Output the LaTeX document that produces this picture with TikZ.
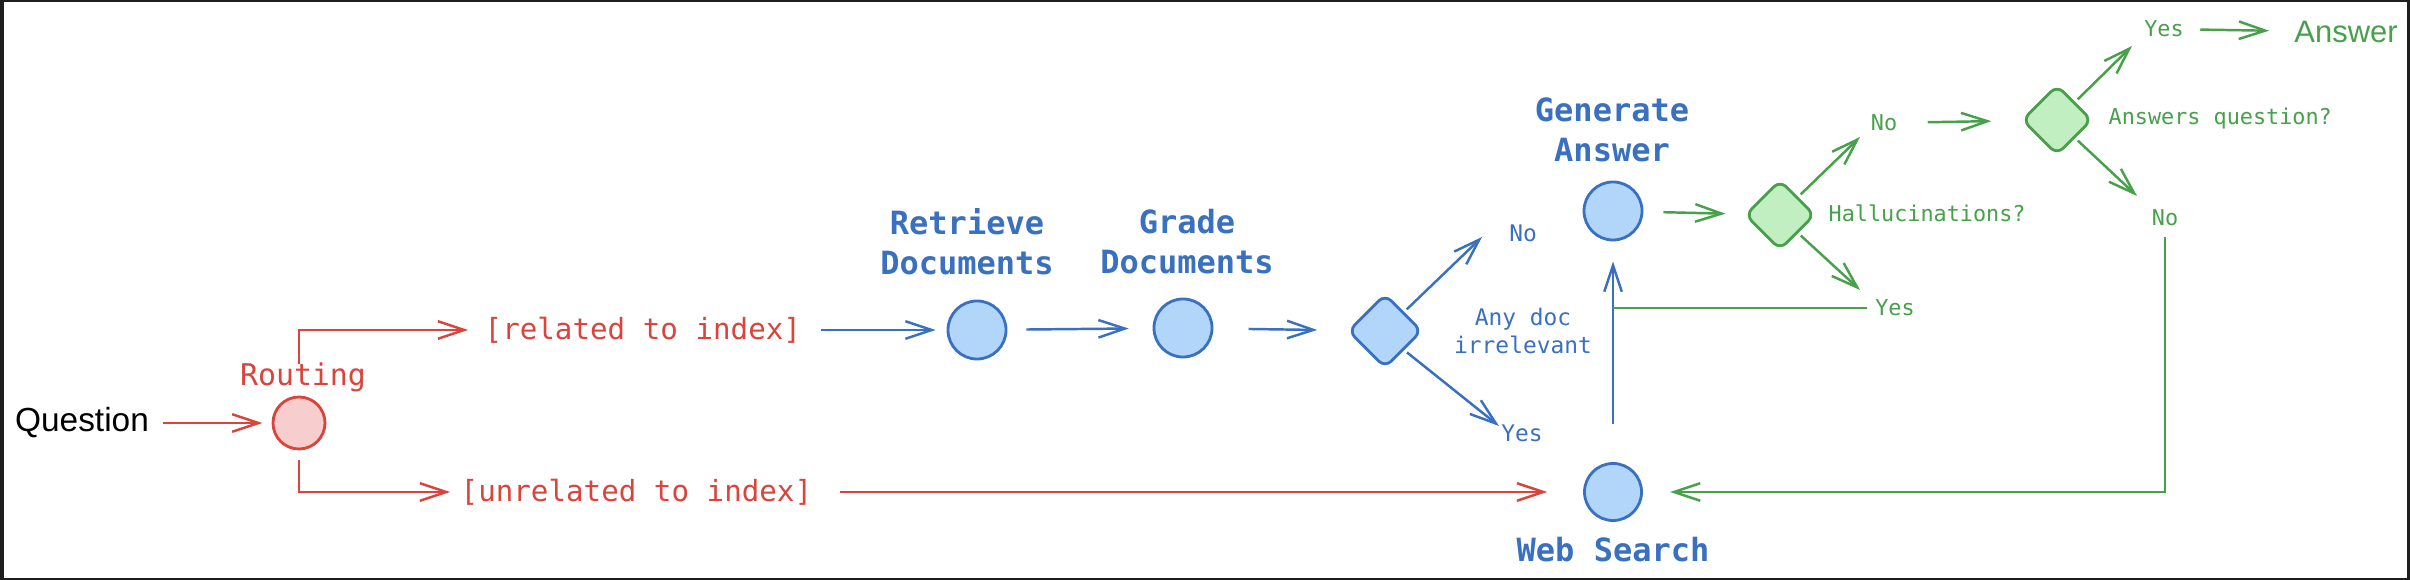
\documentclass[tikz,border=0pt]{standalone}
\usepackage{fontspec}
\setmainfont{Liberation Sans}
\setmonofont{DejaVu Sans Mono}
\usepackage{xcolor}
\usepackage{tikz}
\usetikzlibrary{arrows.meta,shapes}
\definecolor{fgred}{HTML}{D9443D}
\definecolor{bgred}{HTML}{F8CDCD}
\definecolor{fgblue}{HTML}{3A70C0}
\definecolor{bgblue}{HTML}{B1D6FA}
\definecolor{fggreen}{HTML}{48A04B}
\definecolor{bggreen}{HTML}{C1EFC2}
\definecolor{framegray}{HTML}{1E1E1E}

\begin{document}
\begin{tikzpicture}[x=0.01cm,y=-0.01cm,
  flow/.style={line width=0.7pt,-{Straight Barb[length=7.5pt,width=5pt]}},
  redflow/.style={flow,fgred},
  blueflow/.style={flow,fgblue},
  greenflow/.style={flow,fggreen},
  dot/.style={circle,line width=0.8pt,minimum size=0.58cm,inner sep=0pt},
  bluedot/.style={dot,draw=fgblue,fill=bgblue},
  decide/.style={diamond,line width=0.8pt,minimum size=0.74cm,inner sep=0pt,rounded corners=2.5pt},
  title/.style={font=\ttfamily\bfseries\fontsize{9.1}{11.4}\selectfont,align=center,fgblue,inner sep=0pt},
  tag/.style={font=\ttfamily\fontsize{8.3}{10}\selectfont,fgred,inner sep=0pt},
  note/.style={font=\ttfamily\fontsize{6.2}{8}\selectfont,inner sep=0pt},
  hand/.style={font=\fontsize{9.5}{11}\selectfont,inner sep=0pt}]
\useasboundingbox (0,0) rectangle (2410,580);
\fill[framegray] (0,0) rectangle (2410,580);
\fill[white] (4,2) rectangle (2407,578);

\node[hand] (question) at (82,423) {Question};
\node[dot,draw=fgred,fill=bgred,minimum size=0.52cm] (routing) at (299,423) {};
\node[tag,font=\ttfamily\fontsize{8.5}{10}\selectfont] (routingtitle) at (303,377) {Routing};
\node[tag,anchor=west] (related) at (484,330) {[related to index]};
\node[tag,anchor=west] (unrelated) at (460,492) {[unrelated to index]};
\node[bluedot] (retrieve) at (977,330) {};
\node[title] (retrievetitle) at (967,242) {Retrieve\\Documents};
\node[bluedot] (grade) at (1183,328) {};
\node[title] (gradetitle) at (1187,242) {Grade\\Documents};
\node[decide,draw=fgblue,fill=bgblue] (anydoc) at (1385,331) {};
\node[note,fgblue,align=center,font=\ttfamily\fontsize{6.5}{8}\selectfont] (anydoctext) at (1523,331) {Any doc\\irrelevant};
\node[note,fgblue,font=\ttfamily\fontsize{6.5}{8}\selectfont] (docno) at (1523,233) {No};
\node[note,fgblue,font=\ttfamily\fontsize{6.5}{8}\selectfont] (docyes) at (1522,433) {Yes};
\node[bluedot] (generate) at (1613,211) {};
\node[title] (generatetitle) at (1612,130) {Generate\\Answer};
\node[bluedot,minimum size=0.57cm] (websearch) at (1613,492) {};
\node[title] (websearchtitle) at (1613,550) {Web Search};
\node[decide,draw=fggreen,fill=bggreen,minimum size=0.7cm] (halluc) at (1780,215) {};
\node[note,fggreen,anchor=west] (halluctext) at (1828,213) {Hallucinations?};
\node[note,fggreen] (hallno) at (1884,123) {No};
\node[note,fggreen] (hallyes) at (1895,308) {Yes};
\node[decide,draw=fggreen,fill=bggreen,minimum size=0.7cm] (answers) at (2057,120) {};
\node[note,fggreen,anchor=west] (answerstext) at (2108,119) {Answers question?};
\node[note,fggreen] (ansyes) at (2164,29) {Yes};
\node[note,fggreen] (ansno) at (2165,218) {No};
\node[hand,fggreen,font=\fontsize{8.8}{10}\selectfont] (answer) at (2346,32) {Answer};

\coordinate (docnotip) at (1482,237);
\coordinate (docyestip) at (1499,426);
\coordinate (hallnotip) at (1860,137);
\coordinate (hallyestip) at (1860,290);
\coordinate (ansyestip) at (2132,46);
\coordinate (ansnotip) at (2137,196);

\draw[redflow,shorten <=3.7pt,shorten >=2.6pt] (question) -- (routing);
\draw[redflow,shorten <=9pt,shorten >=4.5pt] (routing.north) |- (related.west);
\draw[redflow,shorten <=2.6pt,shorten >=2.8pt] (routing.south) |- (unrelated.west);
\draw[redflow,shorten <=7.7pt,shorten >=10.2pt] (unrelated) -- (websearch);
\draw[blueflow,shorten <=5.4pt,shorten >=3.1pt] (related) -- (retrieve);
\draw[blueflow,shorten <=5.4pt,shorten >=6.8pt] (retrieve) -- (grade);
\draw[blueflow,shorten <=10pt,shorten >=8.5pt] (grade) -- (anydoc);
\draw[blueflow,shorten <=1pt] (anydoc.north east) -- (docnotip);
\draw[blueflow,shorten <=1pt] (anydoc.south east) -- (docyestip);
\draw[blueflow,shorten <=10.8pt,shorten >=5.7pt] (websearch) -- (generate);
\draw[greenflow,-,shorten <=2.3pt] (hallyes.west) -- (hallyes.west -| websearch);
\draw[greenflow,shorten <=5.7pt,shorten >=5.4pt] (generate) -- (halluc);
\draw[greenflow,shorten <=1pt] (halluc.north east) -- (hallnotip);
\draw[greenflow,shorten <=1pt] (halluc.south east) -- (hallyestip);
\draw[greenflow,shorten <=8.5pt,shorten >=8.5pt] (hallno) -- (answers);
\draw[greenflow,shorten <=1pt] (answers.north east) -- (ansyestip);
\draw[greenflow,shorten <=1pt] (answers.south east) -- (ansnotip);
\draw[greenflow,shorten <=4.5pt,shorten >=7pt] (ansyes) -- (answer);
\draw[greenflow,shorten <=3pt,shorten >=7.7pt] (ansno.south) |- (websearch.east);
\end{tikzpicture}
\end{document}
